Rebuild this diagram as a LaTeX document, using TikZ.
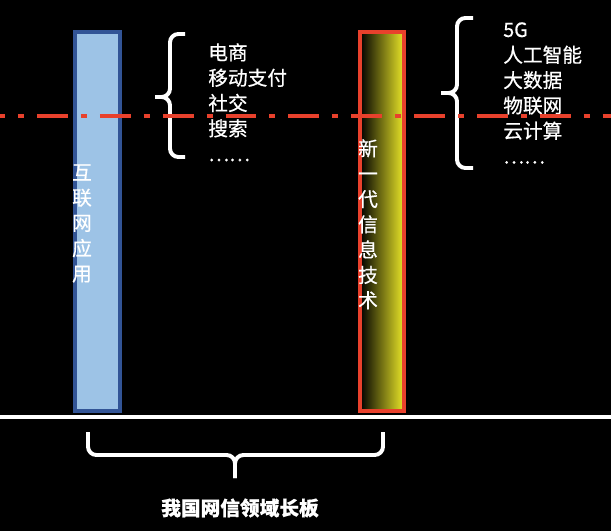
\documentclass[tikz,border=0pt]{standalone}
\usepackage{fontspec}
\newfontfamily\cjk[FakeBold=0.6]{Noto Sans CJK SC}
\usepackage{xcolor}
\usepackage{tikz}
\usetikzlibrary{positioning,calc}
\definecolor{barblue}{RGB}{157,195,230}
\definecolor{bardeep}{RGB}{50,84,150}
\definecolor{barred}{RGB}{232,65,44}
\definecolor{baryellow}{RGB}{234,230,40}

\begin{document}
\begin{tikzpicture}[x=0.025cm, y=-0.025cm,
  bar/.style={rectangle, minimum height=9.475cm, line width=0.1cm, inner sep=0pt},
  txt/.style={text=white, font=\cjk\fontsize{14}{18}\selectfont, inner sep=0pt},
  brc/.style={draw=white, line width=2.8pt, rounded corners=6pt}]
\fill[black] (0,0) rectangle (611,531);
\useasboundingbox (0,0) rectangle (611,531);
\coordinate (BL) at (0,417);
\coordinate (BR) at (611,417);
\coordinate (ML) at (0,116);
\coordinate (MR) at (611,116);
% the two bars
\node[bar, draw=bardeep, fill=barblue, minimum width=1.125cm] (app) at (97.5,221.5) {};
\node[bar, draw=barred, left color=black, right color=baryellow, minimum width=1.1cm] (tech) at (382,221.5) {};
\node[txt, align=center, anchor=north] (applabel) at (82,164) {互\\联\\网\\应\\用};
\node[txt, align=center, anchor=north] (techlabel) at (368,139) {新\\一\\代\\信\\息\\技\\术};
% lists and braces
\node[txt, align=left, anchor=north west] (applist) at (208,43) {电商\\移动支付\\社交\\搜索\\……};
\node[txt, align=left, anchor=north west] (techlist) at (503,22) {5G\\人工智能\\大数据\\物联网\\云计算\\……};
\coordinate (A1) at (185,34);
\coordinate (A2) at (185,157);
\coordinate (Am) at (170,97);
\coordinate (At) at (155,97);
\coordinate (T1) at (473,18);
\coordinate (T2) at (473,168);
\coordinate (Tm) at (457,93);
\coordinate (Tt) at (441,93);
\draw[brc] (A1) -| (Am) -- (At);
\draw[brc] (A2) -| (Am) -- (At);
\draw[brc] (T1) -| (Tm) -- (Tt);
\draw[brc] (T2) -| (Tm) -- (Tt);
% ground line and summary
\draw[white, line width=3pt] (BL) -- (BR);
\coordinate (S1) at (88,432);
\coordinate (S2) at (383,432);
\coordinate (Sm) at (235,455);
\coordinate (St) at (235,478);
\draw[brc] (S1) |- (Sm) -- (St);
\draw[brc] (S2) |- (Sm) -- (St);
\node[txt, font=\cjk\bfseries\fontsize{14}{18}\selectfont] (summary) at (240,508) {我国网信领域长板};
\draw[barred, line width=3.3pt, dash pattern=on 22pt off 9.2pt on 4.3pt off 9.2pt, dash phase=18.4pt] (ML) -- (MR);
\end{tikzpicture}
\end{document}
